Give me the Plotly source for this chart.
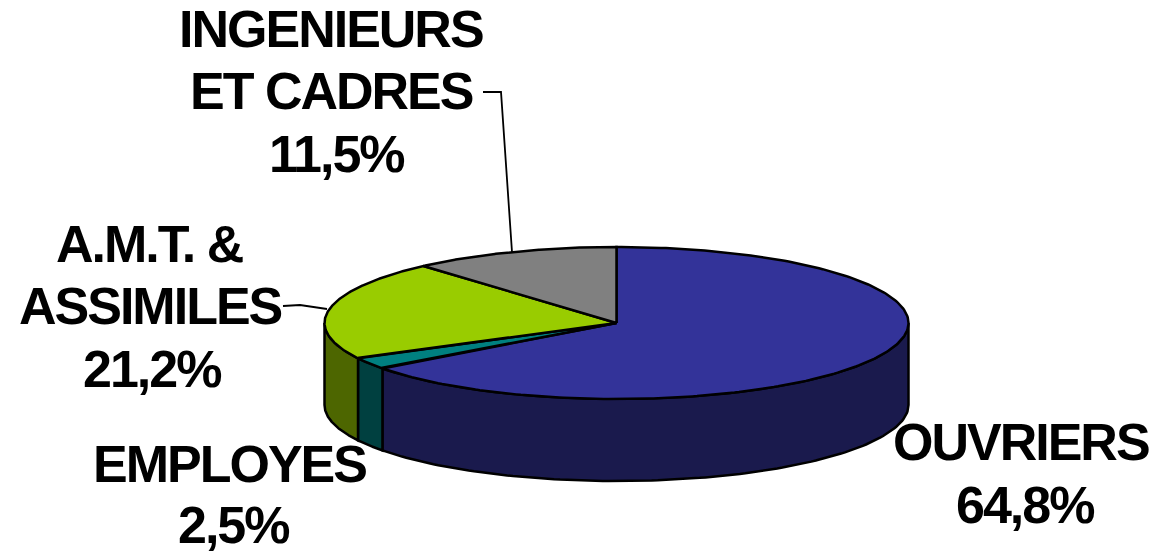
import numpy as np
import plotly.graph_objects as go

categories = ["OUVRIERS", "EMPLOYES", "A.M.T. & ASSIMILES", "INGENIEURS ET CADRES"]
shares = [64.8, 2.5, 21.2, 11.5]
label_lines = [["OUVRIERS", "64,8%"], ["EMPLOYES", "2,5%"],
               ["A.M.T. &", "ASSIMILES", "21,2%"], ["INGENIEURS", "ET CADRES", "11,5%"]]
top_colors = ["#333399", "#008080", "#99CC00", "#808080"]
side_colors = ["#1A1A4D", "#004040", "#4D6600", "#404040"]

CX, CY, RX, RY, DEPTH = 616.5, 323, 292, 76, 82
LABEL_POS = [[(1021, 442), (1025, 505)], [(229, 464), (233, 525)],
             [(149, 244), (150, 306), (152, 369)],
             [(331, 29), (331, 91), (336, 154)]]
LEADERS = [([483, 501, 512], [92, 92, 252]), ([283, 300, 327], [306, 305, 309])]


def rim(t):
    return CX + RX * np.sin(t), CY - RY * np.cos(t)


fig = go.Figure()
edges = np.radians(np.concatenate([[0], np.cumsum(shares)]) * 3.6)
line = dict(color="black", width=2.5)

# Visible side walls first (front half of the rim)
for i in range(len(shares)):
    a, b = max(edges[i], np.pi / 2), min(edges[i + 1], 3 * np.pi / 2)
    if b <= a:
        continue
    t = np.linspace(a, b, 120)
    x, y = rim(t)
    fig.add_trace(go.Scatter(
        x=np.concatenate([x, x[::-1], x[:1]]),
        y=np.concatenate([y, y[::-1] + DEPTH, y[:1]]),
        mode="lines", fill="toself", fillcolor=side_colors[i], line=line,
        hoverinfo="skip", showlegend=False))

# Top faces
for i in range(len(shares)):
    t = np.linspace(edges[i], edges[i + 1], 240)
    x, y = rim(t)
    fig.add_trace(go.Scatter(
        x=np.concatenate([[CX], x, [CX]]),
        y=np.concatenate([[CY], y, [CY]]),
        mode="lines", fill="toself", fillcolor=top_colors[i], line=line,
        name=categories[i], hoverinfo="skip", showlegend=False))

for lx, ly in LEADERS:
    fig.add_trace(go.Scatter(x=lx, y=ly, mode="lines",
                             line=dict(color="black", width=1.8),
                             hoverinfo="skip", showlegend=False))

STYLE = "letter-spacing:-2px"
for lines, positions in zip(label_lines, LABEL_POS):
    for part, (px, py) in zip(lines, positions):
        fig.add_annotation(
            x=px, y=py, xref="x", yref="y", showarrow=False, align="center",
            text=f'<span style="{STYLE}"><b>{part}</b></span>',
            font=dict(family="Liberation Sans", size=52, color="black"))

fig.update_layout(
    width=1153, height=552, autosize=False,
    margin=dict(l=0, r=0, t=0, b=0),
    paper_bgcolor="white", plot_bgcolor="white",
    xaxis=dict(range=[0, 1153], visible=False, fixedrange=True),
    yaxis=dict(range=[552, 0], visible=False, fixedrange=True),
)
fig.write_html("out.html", config={"displayModeBar": False},
               post_script="document.body.style.margin='0';")
